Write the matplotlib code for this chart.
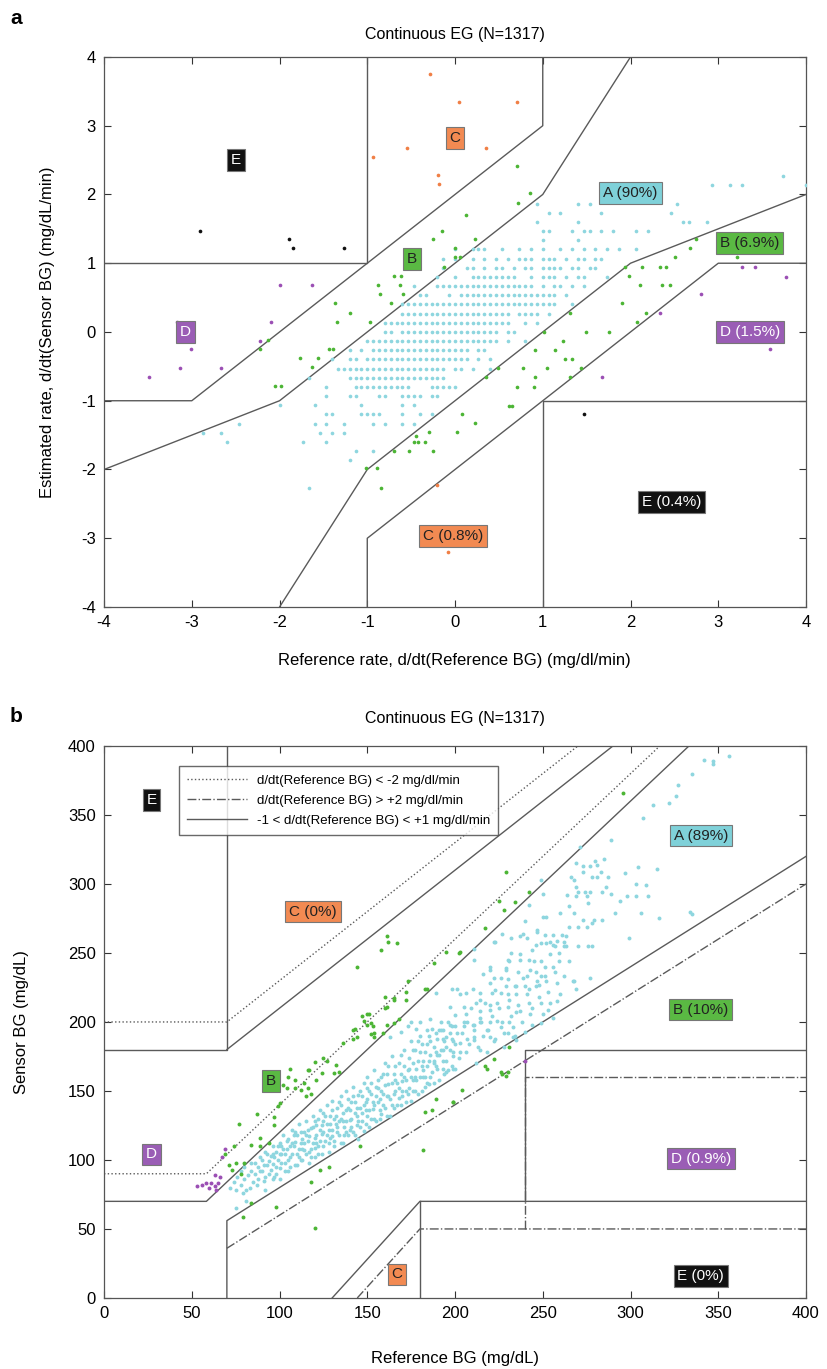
import numpy as np
import matplotlib.pyplot as plt

plt.rcParams['font.family'] = ['Liberation Sans', 'DejaVu Sans']
plt.rcParams['axes.unicode_minus'] = False

# ---------------- panel a : rate error grid ----------------
# cyan (zone A) points lie on a grid: x = i/15, y = 2k/15
a_rows = [
    (17, [56]),
    (16, [44, 47, 49, 60]),
    (14, [14, 21, 23, 38]),
    (13, [16, 18, 25, 37]),
    (12, [14, 21, 39, 40, 43]),
    (11, [15, 16, 20, 22, 23, 25, 27, 31, 33]),
    (10, [15, 21]),
    (9, [0, 3, 4, 5, 8, 11, 13, 15, 18, 20, 22, 24, 26, 28, 31]),
    (8, [-2, 0, 3, 5, 7, 9, 11, 12, 13, 15, 16, 17, 19, 21, 22, 24, 25]),
    (7, [-2, 2, 3, 5, 7, 8, 10, 12, 13, 15, 16, 17, 18, 20, 21, 23, 24]),
    (6, [-3, 0, 3, 4, 5, 6, 7, 8, 9, 10, 13, 15, 16, 17, 19, 21, 22, 26]),
    (5, [-7, -3, -2, -1, 0, 1, 2, 3, 4, 5, 6, 7, 8, 9, 10, 11, 12, 13, 15, 17, 18, 20, 22]),
    (4, [-6, -5, -1, 1, 2, 3, 4, 5, 6, 7, 8, 9, 10, 11, 12, 13, 14, 15, 16, 17, 19]),
    (3, [-9, -8, -7, -6, -5, -4, -3, -2, -1, 0, 1, 2, 3, 4, 5, 6, 7, 8, 9, 10, 11, 12, 13, 14, 15, 16, 17, 20]),
    (2, [-9, -8, -7, -6, -5, -4, -3, -2, -1, 0, 1, 2, 3, 4, 5, 6, 7, 8, 9, 11, 12, 13, 14, 16]),
    (1, [-12, -11, -10, -9, -8, -7, -6, -5, -4, -3, -2, -1, 0, 1, 2, 3, 4, 5, 6, 7, 8, 9, 12, 14]),
    (0, [-12, -11, -9, -8, -7, -6, -5, -4, -3, -2, -1, 0, 1, 2, 3, 4, 5, 6, 7, 9, 10]),
    (-1, [-15, -14, -13, -12, -11, -10, -9, -8, -7, -6, -5, -4, -3, -2, -1, 0, 1, 2, 3, 4, 5, 6, 7, 9, 12]),
    (-2, [-18, -16, -14, -13, -12, -11, -10, -9, -8, -7, -6, -5, -4, -3, -2, -1, 0, 1, 2, 4, 5]),
    (-3, [-21, -18, -17, -15, -14, -13, -12, -11, -10, -9, -8, -7, -6, -5, -4, -3, -2, -1, 0, 1, 2, 4, 6]),
    (-4, [-20, -19, -18, -17, -16, -15, -14, -13, -12, -11, -10, -9, -8, -7, -6, -5, -4, -3, -2, 0, 1, 3, 6]),
    (-5, [-25, -18, -17, -16, -15, -14, -13, -12, -11, -10, -9, -8, -7, -6, -5, -4, -3, -2]),
    (-6, [-22, -17, -16, -15, -14, -13, -12, -11, -10, -9, -8, -4, -3, -2, -1, 0]),
    (-7, [-22, -18, -17, -13, -12, -9, -8, -7, -6, -4, -3]),
    (-8, [-30, -24, -16, -9, -7]),
    (-9, [-22, -21, -16, -15, -14, -13, -9, -6, -4]),
    (-10, [-37, -24, -22, -19, -14, -12, -9, -7]),
    (-11, [-43, -40, -23, -21, -19]),
    (-12, [-39, -26, -22]),
    (-13, [-17, -14]),
    (-14, [-18]),
    (-17, [-25]),
]

a_green = [
    (0.71, 2.42), (0.86, 2.02), (0.72, 1.88), (0.13, 1.70), (-0.15, 1.47), (-0.25, 1.35),
    (0.23, 1.35), (0.0, 1.22), (0.0, 1.09), (0.06, 1.09), (-0.12, 0.95), (-0.69, 0.81),
    (-0.61, 0.81), (-0.88, 0.68), (-0.63, 0.68), (-0.85, 0.55), (-0.59, 0.55), (-1.37, 0.42),
    (-0.73, 0.42), (-1.20, 0.28), (-1.35, 0.15), (-0.97, 0.15), (-2.13, -0.12), (-2.22, -0.25),
    (-1.44, -0.25), (-1.39, -0.25), (-1.77, -0.38), (-1.56, -0.38), (-1.63, -0.51),
    (-2.05, -0.79), (-1.98, -0.79), (2.75, 1.35), (2.68, 1.22), (2.51, 1.09), (3.21, 1.09),
    (2.13, 0.95), (2.34, 0.95), (2.41, 0.95), (1.94, 0.95), (1.98, 0.82), (2.11, 0.68),
    (2.36, 0.68), (2.45, 0.68), (1.90, 0.42), (1.31, 0.27), (2.18, 0.27), (2.07, 0.15),
    (1.01, 0.0), (1.49, 0.0), (1.76, 0.0), (1.23, -0.13), (0.91, -0.26), (1.14, -0.26),
    (1.25, -0.40), (1.33, -0.40), (0.49, -0.53), (0.77, -0.53), (1.05, -0.53), (1.44, -0.53),
    (0.35, -0.66), (0.91, -0.66), (1.31, -0.66), (0.71, -0.80), (0.90, -0.80), (0.61, -1.07),
    (0.65, -1.07), (0.08, -1.20), (0.23, -1.33), (0.02, -1.46), (-0.30, -1.46), (-0.44, -1.52),
    (-0.47, -1.60), (-0.42, -1.60), (-0.34, -1.60), (-0.70, -1.73), (-0.52, -1.73),
    (-0.25, -1.73), (-1.01, -1.98), (-0.89, -1.98), (-0.84, -2.27),
]
a_orange = [(-0.29, 3.75), (0.04, 3.35), (0.71, 3.35), (-0.55, 2.68), (0.35, 2.68),
            (-0.94, 2.55), (-0.19, 2.28), (-0.18, 2.15), (-0.21, -2.23), (-0.08, -3.20)]
a_purple = [(-3.49, -0.66), (-3.17, 0.15), (-3.13, -0.53), (-3.01, -0.25), (-2.67, -0.53),
            (-2.22, -0.13), (-2.10, 0.15), (-1.99, 0.68), (-1.63, 0.68), (2.34, 0.27),
            (1.68, -0.66), (2.80, 0.55), (3.27, 0.95), (3.42, 0.95), (3.77, 0.80), (3.59, -0.25)]
a_black = [(-2.91, 1.47), (-1.89, 1.35), (-1.85, 1.22), (-1.26, 1.22), (1.47, -1.20)]

a_lines = [
    [(-4, -2), (-2, -1), (1, 2), (2, 4)],
    [(-2, -4), (-1, -2), (2, 1), (4, 2)],
    [(-4, -1), (-3, -1), (1, 3), (1, 4)],
    [(-1, -4), (-1, -3), (3, 1), (4, 1)],
    [(-4, 1), (-1, 1), (-1, 4)],
    [(1, -4), (1, -1), (4, -1)],
]
a_labels = [("E", -2.5, 2.5, "k"), ("C", 0.0, 2.82, "C"), ("B", -0.49, 1.06, "B"),
            ("A (90%)", 2.0, 2.02, "A"), ("B (6.9%)", 3.36, 1.29, "B"),
            ("D", -3.07, 0.0, "D"), ("D (1.5%)", 3.36, 0.0, "D"),
            ("C (0.8%)", -0.02, -2.97, "C"), ("E (0.4%)", 2.47, -2.47, "k")]

# ---------------- panel b : point error grid ----------------
b_cyan = [
    (72, 80), (74, 84), (75, 78), (76, 88), (78, 82), (78, 92), (79, 76), (80, 86), (80, 95),
    (82, 89), (81, 78), (84, 92), (85, 84), (86, 98), (88, 86), (88, 95), (89, 102), (75, 65),
    (81, 70), (92, 78),
    (90, 92), (90, 100), (91, 85), (92, 106), (93, 96), (94, 90), (95, 103), (96, 110), (96, 97),
    (97, 88), (98, 106), (99, 100), (100, 94), (100, 112), (101, 104), (102, 118), (103, 98),
    (104, 108), (105, 92), (105, 115),
    (106, 102), (107, 122), (108, 110), (109, 96), (110, 118), (110, 104), (111, 126), (112, 112),
    (113, 100), (114, 120), (114, 107), (115, 128), (116, 114), (117, 98), (118, 123), (118, 108),
    (119, 132), (120, 116), (120, 102),
    (121, 125), (122, 110), (123, 136), (124, 119), (124, 104), (125, 128), (126, 114), (127, 140),
    (128, 122), (128, 106), (129, 132), (130, 117), (130, 143), (131, 110), (132, 126), (133, 138),
    (134, 118), (135, 146), (135, 130),
    (136, 112), (137, 124), (138, 150), (138, 136), (139, 118), (140, 129), (141, 142), (142, 120),
    (142, 153), (143, 134), (144, 125), (145, 147), (145, 115), (146, 138), (147, 128), (148, 156),
    (148, 121),
    (149, 142), (150, 132), (150, 160), (151, 124), (152, 148), (153, 137), (154, 165), (155, 128),
    (155, 153), (156, 142), (157, 130), (158, 133), (158, 160), (159, 148), (160, 138), (160, 170),
    (161, 132),
    (162, 155), (163, 144), (164, 175), (165, 138), (165, 162), (166, 150), (167, 140), (168, 170),
    (169, 140), (170, 157), (170, 146), (171, 180), (172, 142), (173, 165), (174, 152), (175, 186),
    (175, 143),
    (176, 170), (177, 150), (178, 158), (179, 148), (180, 178), (180, 190), (181, 150), (182, 165),
    (183, 153), (184, 184), (185, 172), (185, 155), (186, 160), (187, 195), (188, 156), (189, 178),
    (190, 166),
    (190, 188), (191, 158), (192, 200), (193, 172), (194, 162), (195, 182), (196, 165), (197, 192),
    (198, 168), (199, 178), (200, 166), (200, 205),
    (83, 80), (84, 98), (86, 90), (87, 82), (89, 92), (91, 96), (92, 88), (93, 104), (94, 99),
    (95, 93), (96, 86), (97, 102), (98, 95), (99, 110), (100, 104), (100, 86), (101, 98),
    (102, 108), (103, 92), (104, 114),
    (106, 110), (106, 95), (107, 104), (108, 118), (109, 113), (110, 96), (111, 108), (112, 120),
    (112, 100), (113, 115), (114, 112), (115, 104), (116, 122), (117, 117), (118, 102), (119, 112),
    (120, 128), (120, 109), (121, 118), (122, 104), (122, 130), (123, 114), (124, 125), (125, 110),
    (125, 120),
    (126, 132), (127, 118), (128, 112), (129, 126), (130, 136), (130, 122), (131, 114), (132, 132),
    (133, 120), (134, 128), (135, 140), (135, 112), (136, 134), (137, 118), (138, 128), (139, 144),
    (140, 122), (140, 136), (141, 130), (142, 146), (143, 118), (144, 138), (145, 128), (146, 150),
    (147, 134), (148, 140), (149, 126), (150, 144), (150, 152),
    (151, 136), (152, 156), (153, 142), (154, 130), (155, 146), (156, 158), (157, 136), (158, 150),
    (159, 140), (160, 154), (161, 162), (162, 146), (163, 132), (164, 156), (165, 148), (166, 168),
    (167, 156), (168, 145), (169, 162), (170, 150), (171, 168), (172, 158), (173, 148), (174, 174),
    (175, 160),
    (176, 150), (177, 180), (178, 166), (179, 172), (180, 160), (181, 184), (182, 172), (183, 160),
    (184, 168), (185, 190), (186, 176), (187, 164), (188, 182), (189, 168), (190, 176), (191, 194),
    (192, 180), (193, 166), (194, 186), (195, 172), (196, 200), (197, 180), (198, 188), (199, 166),
    (200, 184),
    (96, 104), (98, 90), (101, 110), (103, 104), (105, 100), (107, 112), (109, 120), (111, 102),
    (113, 108), (115, 118), (117, 106), (119, 124), (121, 112), (123, 122), (125, 134), (127, 126),
    (129, 116), (131, 130), (133, 124), (134, 142), (136, 128), (138, 120), (139, 138), (141, 124),
    (143, 142), (144, 132), (146, 124), (147, 146), (149, 136), (151, 150), (152, 130), (154, 140),
    (156, 152), (157, 144), (159, 162), (161, 146), (162, 168), (164, 140), (166, 158), (168, 152),
    (169, 176), (171, 160), (172, 150), (174, 166), (176, 180), (177, 160), (179, 186), (181, 168),
    (183, 178), (184, 156), (186, 186), (188, 172), (189, 192), (191, 176), (193, 188), (195, 164),
    (197, 198), (199, 186), (201, 192), (203, 178), (205, 200), (207, 188), (209, 210), (211, 194),
    (213, 182), (215, 200), (217, 214), (219, 194), (221, 204), (223, 188), (225, 210), (227, 200),
    (229, 226), (231, 216), (233, 196), (235, 220), (237, 208), (239, 232), (241, 220), (243, 206),
    (245, 244), (247, 230), (249, 214), (251, 240), (253, 222),
    (202, 174), (204, 192), (206, 206), (208, 184), (210, 198), (212, 170), (214, 208), (216, 190),
    (218, 178), (220, 200), (222, 186), (224, 214), (226, 196), (228, 182), (230, 220), (232, 204),
    (234, 190), (236, 212), (238, 200), (240, 226), (242, 214), (244, 198), (246, 236), (248, 218),
    (250, 206), (252, 230), (254, 214), (256, 240), (258, 228), (260, 220),
    (195, 189), (203, 185), (211, 187), (199, 175), (193, 180), (220, 189), (214, 180),
    (230, 192), (235, 187), (206, 178), (188, 170), (182, 160), (176, 158),
    (356, 393), (347, 389), (347, 387), (342, 390), (335, 380), (327, 372), (326, 364), (322, 359),
    (313, 357), (307, 348), (289, 332), (271, 327), (285, 318), (280, 317), (281, 314), (269, 315),
    (273, 313), (277, 313), (304, 312), (315, 311), (297, 308), (273, 309), (283, 309), (287, 305),
    (266, 305), (268, 303), (278, 305), (281, 305), (269, 298), (286, 298), (303, 300), (309, 299),
    (264, 292), (270, 294), (274, 294), (277, 294), (269, 291), (275, 291), (284, 294), (289, 293),
    (298, 291), (303, 291), (310, 291), (294, 288), (249, 303), (250, 293), (276, 286), (242, 285),
    (240, 273), (250, 276), (252, 276), (265, 284), (268, 279), (273, 274), (279, 274), (284, 274),
    (291, 279), (306, 279), (316, 275), (334, 280), (335, 278), (299, 261), (260, 279), (265, 269),
    (270, 269), (275, 269), (278, 272), (247, 265), (254, 258), (262, 258), (258, 259), (263, 262),
    (237, 262), (232, 261), (227, 264), (222, 258), (246, 256), (249, 257), (257, 255), (263, 255),
    (270, 255), (276, 255), (278, 255), (254, 249), (259, 250), (231, 244), (237, 245), (242, 245),
    (249, 244), (259, 244), (265, 244), (232, 250), (237, 249), (211, 245), (220, 238), (229, 238),
    (236, 236), (243, 238), (249, 233), (251, 233), (257, 236), (262, 233), (267, 230), (268, 230),
    (277, 232), (269, 224), (216, 235), (222, 232), (230, 231), (234, 226), (242, 224), (248, 227),
    (226, 221), (221, 221), (214, 221), (210, 224), (203, 220), (198, 224), (197, 211), (205, 211),
    (212, 214), (220, 209), (230, 211), (235, 207), (244, 210), (253, 209), (258, 215), (256, 203),
    (249, 199), (240, 193), (231, 200), (224, 201), (214, 203), (207, 200), (200, 197), (193, 194),
    (218, 194), (228, 192), (233, 189), (211, 189), (211, 253), (189, 221), (201, 224), (206, 221),
    (186, 202), (180, 200), (175, 200), (173, 197), (178, 195), (184, 194), (192, 194), (198, 197),
    (205, 197), (211, 198), (214, 200), (169, 193), (163, 189), (214, 216), (220, 212), (223, 223),
    (226, 232), (220, 228), (235, 226), (241, 233), (246, 226), (229, 239), (220, 240), (223, 258),
    (230, 245), (244, 252), (241, 261), (239, 264), (247, 267), (251, 263), (256, 263), (261, 263),
    (252, 257), (256, 256), (262, 255),
]
b_green = [
    (147, 204), (151, 206), (143, 195), (150, 198), (153, 197), (154, 192), (152, 191), (154, 189),
    (161, 198), (165, 199), (159, 192), (136, 185), (142, 188), (125, 174), (127, 172), (132, 169),
    (131, 163), (134, 164), (120, 171), (116, 165), (117, 165), (121, 158), (124, 163), (106, 166),
    (105, 160), (109, 158), (114, 156), (109, 152), (112, 151), (116, 152), (118, 148), (115, 146),
    (102, 154), (104, 152), (100, 141), (99, 139), (97, 131), (97, 125), (89, 116), (94, 112),
    (87, 133), (77, 126), (84, 111), (89, 110), (74, 110), (69, 104), (71, 96), (75, 98), (73, 93),
    (80, 98), (78, 90),
    (161, 262), (162, 258), (167, 257), (158, 252), (144, 240), (188, 243), (184, 224), (173, 230),
    (165, 217), (160, 218), (172, 216), (161, 211), (150, 206), (148, 201), (152, 199), (142, 194),
    (144, 189), (195, 251), (202, 250), (229, 309), (242, 294), (225, 288), (234, 287), (228, 281),
    (217, 268), (203, 251), (183, 224), (172, 222), (165, 216), (160, 210), (168, 202), (296, 366),
    (79, 59), (84, 69), (98, 66), (120, 51), (118, 84), (123, 93), (128, 95), (146, 110),
    (182, 107), (183, 135), (187, 136), (189, 144), (199, 142), (231, 182), (222, 173),
    (217, 168), (218, 166), (226, 164), (227, 162), (229, 161), (230, 164), (204, 151), (199, 142),
]
b_purple = [(63, 89), (66, 88), (69, 108), (67, 102), (53, 81), (56, 82), (58, 83), (61, 83),
            (63, 81), (64, 78), (65, 83), (60, 80), (240, 172)]

b_solid = [
    [(0, 180), (70, 180), (70, 400)],
    [(70, 180), (290, 400)],
    [(0, 70), (58.33, 70), (333.3, 400)],
    [(70, 0), (70, 56), (400, 320)],
    [(130, 0), (180, 70), (400, 70)],
    [(180, 0), (180, 70)],
    [(240, 70), (240, 180), (400, 180)],
]
b_dotted = [
    [(0, 200), (70, 200), (270, 400)],
    [(0, 90), (58.33, 90), (316.7, 400)],
]
b_dashdot = [
    [(70, 36), (400, 300)],
    [(144.3, 0), (180, 50), (400, 50)],
    [(240, 50), (240, 160), (400, 160)],
]
b_labels = [("E", 27, 361, "k"), ("C (0%)", 119, 280, "C"), ("A (89%)", 340, 335, "A"),
            ("B (10%)", 340, 209, "B"), ("B", 95, 157, "B"), ("D", 27, 104, "D"),
            ("D (0.9%)", 340, 101, "D"), ("C", 167, 17, "C"), ("E (0%)", 340, 16, "k")]

pt_col = {"A": "#8ed6df", "B": "#4cb535", "C": "#f07f45", "D": "#9b4fb4", "k": "#111111"}
box_col = {"A": "#7fd1d9", "B": "#5ab943", "C": "#f28a52", "D": "#9a5db5", "k": "#111111"}
txt_col = {"A": "#222222", "B": "#222222", "C": "#222222", "D": "white", "k": "white"}
line_col = "#5a5a5a"


def style(ax):
    ax.tick_params(direction="in", top=True, right=True, length=5, width=0.8,
                   labelsize=12, colors="#333333", labelcolor="black", pad=6)
    for s in ax.spines.values():
        s.set_color("#555555")
        s.set_linewidth(0.9)


def put_labels(ax, labels):
    for txt, x, y, z in labels:
        ax.text(x, y, txt, ha="center", va="center", fontsize=11, color=txt_col[z], zorder=6,
                bbox=dict(boxstyle="square,pad=0.25", fc=box_col[z], ec="#777777", lw=0.8))


fig = plt.figure(figsize=(8.27, 13.69), dpi=100)

# ---- a ----
ax1 = fig.add_axes([0.1258, 0.5566, 0.8488, 0.4018])
for line in a_lines:
    p = np.array(line)
    ax1.plot(p[:, 0], p[:, 1], color=line_col, lw=1.0, zorder=2)
cx = [i / 15 for k, row in a_rows for i in row]
cy = [2 * k / 15 for k, row in a_rows for i in row]
ax1.scatter(cx, cy, s=7, color=pt_col["A"], lw=0, zorder=3)
for pts, z in [(a_green, "B"), (a_orange, "C"), (a_purple, "D"), (a_black, "k")]:
    p = np.array(pts)
    ax1.scatter(p[:, 0], p[:, 1], s=7, color=pt_col[z], lw=0, zorder=4)
put_labels(ax1, a_labels)
ax1.set_xlim(-4, 4)
ax1.set_ylim(-4, 4)
ax1.set_xticks(range(-4, 5))
ax1.set_yticks(range(-4, 5))
style(ax1)

# ---- b ----
ax2 = fig.add_axes([0.1258, 0.0519, 0.8488, 0.4032])
for group, ls in [(b_solid, "-"), (b_dotted, ":"), (b_dashdot, "-.")]:
    for line in group:
        p = np.array(line)
        ax2.plot(p[:, 0], p[:, 1], color=line_col, lw=1.0, ls=ls, zorder=2)
p = np.array(b_cyan)
ax2.scatter(p[:, 0], p[:, 1], s=8, color=pt_col["A"], lw=0, zorder=3)
for pts, z in [(b_green, "B"), (b_purple, "D")]:
    p = np.array(pts)
    ax2.scatter(p[:, 0], p[:, 1], s=8, color=pt_col[z], lw=0, zorder=4)
put_labels(ax2, b_labels)
h1, = ax2.plot([], [], ls=":", color=line_col, lw=1.0)
h2, = ax2.plot([], [], ls="-.", color=line_col, lw=1.0)
h3, = ax2.plot([], [], ls="-", color=line_col, lw=1.0)
ax2.legend([h1, h2, h3], ["d/dt(Reference BG) < -2 mg/dl/min",
                          "d/dt(Reference BG) > +2 mg/dl/min",
                          "-1 < d/dt(Reference BG) < +1 mg/dl/min"],
           loc="upper left", bbox_to_anchor=(0.098, 0.975), fontsize=9.5, frameon=True,
           fancybox=False, edgecolor="#444444", handlelength=4.5, labelspacing=0.6,
           borderpad=0.6).set_zorder(7)
ax2.set_xlim(0, 400)
ax2.set_ylim(0, 400)
ax2.set_xticks(range(0, 401, 50))
ax2.set_yticks(range(0, 401, 50))
style(ax2)

# ---- texts ----
fig.text(0.55, 1 - 35 / 1369, "Continuous EG (N=1317)", ha="center", va="center", fontsize=11.5)
fig.text(0.55, 1 - 718 / 1369, "Continuous EG (N=1317)", ha="center", va="center", fontsize=11.5)
fig.text(0.012, 1 - 18 / 1369, "a", fontsize=15, fontweight="bold", va="center")
fig.text(0.012, 1 - 716 / 1369, "b", fontsize=15, fontweight="bold", va="center")
fig.text(0.55, 1 - 660 / 1369, "Reference rate, d/dt(Reference BG) (mg/dl/min)",
         ha="center", va="center", fontsize=12)
fig.text(48 / 827, 1 - 332 / 1369, "Estimated rate, d/dt(Sensor BG) (mg/dL/min)",
         ha="center", va="center", rotation=90, fontsize=12)
fig.text(0.55, 1 - 1358 / 1369, "Reference BG (mg/dL)", ha="center", va="center", fontsize=12)
fig.text(22 / 827, 1 - 1022 / 1369, "Sensor BG (mg/dL)", ha="center", va="center",
         rotation=90, fontsize=12)

fig.savefig("out.png", dpi=100)
